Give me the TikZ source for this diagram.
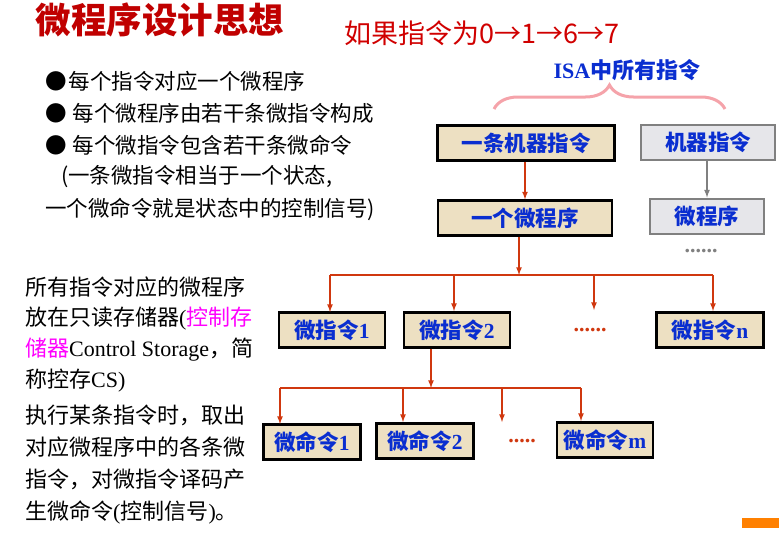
\documentclass[tikz,border=0pt]{standalone}
\usepackage{fontspec}
\setmainfont{Liberation Serif}
\newfontfamily\cjk{Noto Sans CJK SC}
\usetikzlibrary{decorations.pathreplacing}
\definecolor{titlered}{HTML}{C00000}
\definecolor{inkred}{HTML}{D00000}
\definecolor{boxtan}{HTML}{EDE0C2}
\definecolor{boxgray}{HTML}{E6E6EA}
\definecolor{boxblue}{HTML}{0A2ED0}
\definecolor{linered}{HTML}{D0380F}
\definecolor{bracepink}{HTML}{F5A3AA}
\definecolor{mag}{HTML}{FF00FF}
\tikzset{
  tanbox/.style={draw=black, line width=2.2pt, fill=boxtan, text=boxblue,
    font=\cjk\bfseries\fontsize{21.5}{25}\selectfont, inner sep=0pt, minimum height=35pt},
  graybox/.style={draw=gray, line width=2pt, fill=boxgray, text=boxblue,
    font=\cjk\bfseries\fontsize{21.5}{25}\selectfont, inner sep=0pt, minimum height=35pt},
  redline/.style={draw=linered, line width=1.6pt},
  grayline/.style={draw=gray, line width=1.6pt},
  txt/.style={anchor=west, inner sep=0pt, font=\cjk\fontsize{21.5}{25}\selectfont},
  dots/.style={inner sep=0pt, font=\bfseries\fontsize{22}{24}\selectfont},
}
\begin{document}
\begin{tikzpicture}[x=1pt,y=-1pt,>=latex]
\useasboundingbox (0,0) rectangle (779,546);
% titre et note manuscrite
\node[text=titlered, font=\cjk\bfseries\fontsize{35.5}{40}\selectfont] (title) at (160,20) {微程序设计思想};
\node[text=inkred, font=\cjk\fontsize{27}{30}\selectfont] (note) at (482,33) {如果指令为0→1→6→7};
% ISA
\node[text=boxblue, font=\bfseries\fontsize{22}{26}\selectfont] (isa) at (627,70) {ISA{\cjk 中所有指令}};
\draw[bracepink, line width=3pt, decorate, decoration={brace, amplitude=24pt}] (494,109) -- (725,109);
% liste
\node[txt] (b1) at (45,81) {●\hspace{2pt}每个指令对应一个微程序};
\node[txt] (b2) at (45,113) {●\hspace{6pt}每个微程序由若干条微指令构成};
\node[txt] (b3) at (45,145) {●\hspace{6pt}每个微指令包含若干条微命令};
\node[txt] (b4) at (61,177) {(一条微指令相当于一个状态,};
\node[txt] (b5) at (45,209) {一个微命令就是状态中的控制信号)};
% texte a gauche
\node[txt, font=\cjk\fontsize{22}{26}\selectfont] (p1) at (25,287) {所有指令对应的微程序};
\node[txt, font=\cjk\fontsize{22}{26}\selectfont] (p2) at (25,319) {放在只读存储器{\rmfamily (}\textcolor{mag}{控制存}};
\node[txt, font=\cjk\fontsize{22}{26}\selectfont] (p3) at (25,350) {\textcolor{mag}{储器}{\rmfamily Control Storage}，简};
\node[txt, font=\cjk\fontsize{22}{26}\selectfont] (p4) at (25,381) {称控存{\rmfamily CS)}};
\node[txt, font=\cjk\fontsize{22}{26}\selectfont] (p5) at (25,415) {执行某条指令时，取出};
\node[txt, font=\cjk\fontsize{22}{26}\selectfont] (p6) at (25,447) {对应微程序中的各条微};
\node[txt, font=\cjk\fontsize{22}{26}\selectfont] (p7) at (25,479) {指令，对微指令译码产};
\node[txt, font=\cjk\fontsize{22}{26}\selectfont] (p8) at (25,512) {生微命令{\rmfamily (}控制信号{\rmfamily )}。};
% instructions
\node[tanbox, minimum width=177pt] (instr) at (526,143) {一条机器指令};
\node[graybox, minimum width=134pt] (instrb) at (708,142) {机器指令};
\node[tanbox, minimum width=174pt] (prog) at (525,218) {一个微程序};
\node[graybox, minimum width=114pt] (progb) at (707,216) {微程序};
\node[dots, text=gray] (dotsb) at (701,251) {......};
\draw[redline,->] (instr.south -| prog.north) -- (prog.north);
\draw[grayline,->] (instrb.south -| progb.north) -- (progb.north);
% micro-instructions
\node[tanbox, minimum width=106pt] (mi1) at (332,330) {微指令{\rmfamily 1}};
\node[tanbox, minimum width=106pt] (mi2) at (457,330) {微指令{\rmfamily 2}};
\node[dots, text=linered] (dots1) at (590,330) {......};
\node[tanbox, minimum width=107pt] (min) at (710,330) {微指令{\rmfamily n}};
\coordinate (bus1) at (519,275);
\coordinate (tip1) at (594,310);
\draw[redline,->] (prog.south -| bus1) -- (bus1);
\draw[redline] (330,275) -- (713,275);
\draw[redline,->] (330,275) -- (330,312);
\draw[redline,->] (454,275) -- (454,311);
\draw[redline,->] (tip1 |- bus1) -- (tip1);
\draw[redline,->] (713,275) -- (713,311);
% micro-commandes
\node[tanbox, minimum width=97pt] (mc1) at (312,442) {微命令{\rmfamily 1}};
\node[tanbox, minimum width=97pt] (mc2) at (425,441) {微命令{\rmfamily 2}};
\node[dots, text=linered] (dots2) at (522,441) {.....};
\node[tanbox, minimum width=96pt] (mcm) at (605,440) {微命令{\rmfamily m}};
\coordinate (bus2) at (431,388);
\coordinate (tip2) at (502,422);
\draw[redline,->] (mi2.south -| bus2) -- (bus2);
\draw[redline] (280,388) -- (581,388);
\draw[redline,->] (280,388) -- (280,424);
\draw[redline,->] (403,388) -- (403,422);
\draw[redline,->] (tip2 |- bus2) -- (tip2);
\draw[redline,->] (581,388) -- (581,421);
\fill[orange] (742,518) rectangle (779,528);
\end{tikzpicture}
\end{document}
